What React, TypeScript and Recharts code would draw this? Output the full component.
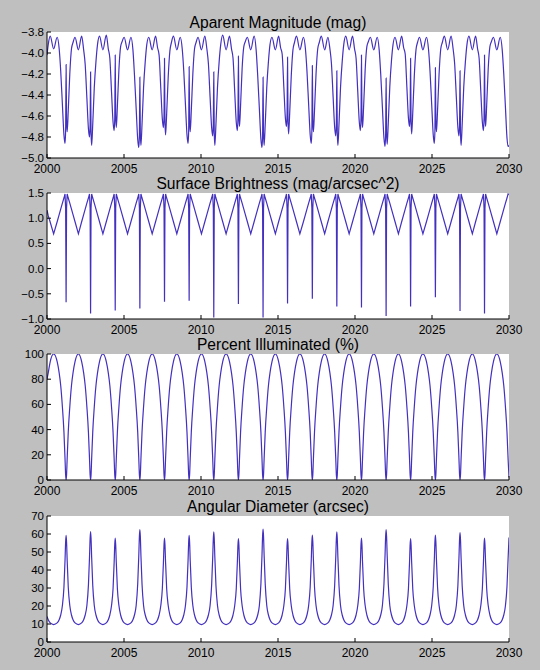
import { Line, LineChart, XAxis, YAxis } from "recharts";

// sample dates (decimal years), one row per synodic cycle of Venus
const YEARS = [
  2000.00, 2000.08, 2000.21, 2000.43,
  2000.66, 2000.79, 2000.89, 2001.00, 2001.10, 2001.17, 2001.21, 2001.24, 2001.27, 2001.31, 2001.38, 2001.48, 2001.59, 2001.69, 2001.82, 2002.04,
  2002.25, 2002.38, 2002.48, 2002.59, 2002.69, 2002.76, 2002.80, 2002.83, 2002.86, 2002.90, 2002.97, 2003.07, 2003.18, 2003.28, 2003.41, 2003.63,
  2003.85, 2003.98, 2004.08, 2004.19, 2004.29, 2004.36, 2004.40, 2004.43, 2004.46, 2004.50, 2004.57, 2004.67, 2004.78, 2004.88, 2005.01, 2005.23,
  2005.45, 2005.58, 2005.68, 2005.79, 2005.89, 2005.96, 2006.00, 2006.03, 2006.06, 2006.10, 2006.17, 2006.27, 2006.38, 2006.48, 2006.61, 2006.83,
  2007.05, 2007.18, 2007.28, 2007.39, 2007.49, 2007.56, 2007.60, 2007.63, 2007.66, 2007.70, 2007.77, 2007.87, 2007.98, 2008.08, 2008.21, 2008.43,
  2008.65, 2008.78, 2008.88, 2008.99, 2009.09, 2009.16, 2009.20, 2009.23, 2009.26, 2009.30, 2009.37, 2009.47, 2009.58, 2009.68, 2009.81, 2010.03,
  2010.25, 2010.38, 2010.48, 2010.59, 2010.69, 2010.76, 2010.80, 2010.83, 2010.86, 2010.90, 2010.97, 2011.07, 2011.18, 2011.28, 2011.41, 2011.63,
  2011.85, 2011.98, 2012.08, 2012.19, 2012.29, 2012.36, 2012.40, 2012.43, 2012.46, 2012.50, 2012.57, 2012.67, 2012.78, 2012.88, 2013.01, 2013.23,
  2013.45, 2013.58, 2013.68, 2013.79, 2013.89, 2013.96, 2014.00, 2014.03, 2014.06, 2014.10, 2014.17, 2014.27, 2014.38, 2014.48, 2014.61, 2014.83,
  2015.04, 2015.17, 2015.27, 2015.38, 2015.48, 2015.55, 2015.59, 2015.62, 2015.65, 2015.69, 2015.76, 2015.86, 2015.97, 2016.07, 2016.20, 2016.42,
  2016.65, 2016.78, 2016.88, 2016.99, 2017.09, 2017.16, 2017.20, 2017.23, 2017.26, 2017.30, 2017.37, 2017.47, 2017.58, 2017.68, 2017.81, 2018.03,
  2018.24, 2018.37, 2018.47, 2018.58, 2018.68, 2018.75, 2018.79, 2018.82, 2018.85, 2018.89, 2018.96, 2019.06, 2019.17, 2019.27, 2019.40, 2019.62,
  2019.84, 2019.97, 2020.07, 2020.18, 2020.28, 2020.35, 2020.39, 2020.42, 2020.45, 2020.49, 2020.56, 2020.66, 2020.77, 2020.87, 2021.00, 2021.22,
  2021.44, 2021.57, 2021.67, 2021.78, 2021.88, 2021.95, 2021.99, 2022.02, 2022.05, 2022.09, 2022.16, 2022.26, 2022.37, 2022.47, 2022.60, 2022.82,
  2023.03, 2023.16, 2023.26, 2023.37, 2023.47, 2023.54, 2023.58, 2023.61, 2023.64, 2023.68, 2023.75, 2023.85, 2023.96, 2024.06, 2024.19, 2024.41,
  2024.64, 2024.77, 2024.87, 2024.98, 2025.08, 2025.15, 2025.19, 2025.22, 2025.25, 2025.29, 2025.36, 2025.46, 2025.57, 2025.67, 2025.80, 2026.02,
  2026.24, 2026.37, 2026.47, 2026.58, 2026.68, 2026.75, 2026.79, 2026.82, 2026.85, 2026.89, 2026.96, 2027.06, 2027.17, 2027.27, 2027.40, 2027.62,
  2027.83, 2027.96, 2028.06, 2028.17, 2028.27, 2028.34, 2028.38, 2028.41, 2028.44, 2028.48, 2028.55, 2028.65, 2028.76, 2028.86, 2028.99, 2029.21,
  2029.43, 2029.56, 2029.66, 2029.77, 2029.87, 2029.94, 2030.00,
];

const MAGNITUDE = [
  -4.02, -3.92, -3.84, -3.96,
  -3.85, -3.96, -4.17, -4.49, -4.78, -4.86, -4.74, -4.11, -4.63, -4.75, -4.55, -4.20, -3.96, -3.90, -3.85, -3.97,
  -3.84, -3.97, -4.11, -4.43, -4.72, -4.80, -4.68, -4.18, -4.76, -4.88, -4.68, -4.33, -4.08, -3.92, -3.84, -3.97,
  -3.83, -3.96, -4.05, -4.37, -4.66, -4.74, -4.62, -4.02, -4.59, -4.71, -4.51, -4.16, -3.94, -3.89, -3.85, -3.97,
  -3.85, -3.97, -4.21, -4.53, -4.82, -4.90, -4.78, -4.23, -4.76, -4.88, -4.68, -4.33, -4.08, -3.92, -3.85, -3.97,
  -3.84, -3.95, -4.02, -4.34, -4.63, -4.71, -4.59, -4.05, -4.66, -4.78, -4.58, -4.23, -3.98, -3.90, -3.84, -3.97,
  -3.85, -3.96, -4.17, -4.49, -4.78, -4.86, -4.74, -4.13, -4.63, -4.75, -4.55, -4.20, -3.96, -3.90, -3.85, -3.97,
  -3.84, -3.96, -4.10, -4.42, -4.71, -4.79, -4.67, -4.18, -4.76, -4.88, -4.68, -4.33, -4.08, -3.92, -3.83, -3.97,
  -3.84, -3.96, -4.05, -4.37, -4.66, -4.74, -4.62, -4.03, -4.58, -4.70, -4.50, -4.15, -3.94, -3.89, -3.85, -3.97,
  -3.84, -3.97, -4.21, -4.53, -4.82, -4.90, -4.78, -4.23, -4.76, -4.88, -4.68, -4.33, -4.08, -3.92, -3.85, -3.97,
  -3.84, -3.95, -4.01, -4.33, -4.62, -4.70, -4.58, -4.04, -4.65, -4.77, -4.57, -4.22, -3.97, -3.90, -3.84, -3.97,
  -3.85, -3.96, -4.17, -4.49, -4.78, -4.86, -4.74, -4.12, -4.63, -4.75, -4.55, -4.20, -3.96, -3.90, -3.84, -3.97,
  -3.85, -3.96, -4.10, -4.42, -4.71, -4.79, -4.67, -4.17, -4.76, -4.88, -4.68, -4.33, -4.08, -3.92, -3.84, -3.97,
  -3.84, -3.96, -4.05, -4.37, -4.66, -4.74, -4.62, -4.02, -4.59, -4.71, -4.51, -4.16, -3.94, -3.89, -3.85, -3.97,
  -3.85, -3.97, -4.20, -4.52, -4.81, -4.89, -4.77, -4.24, -4.75, -4.87, -4.67, -4.32, -4.07, -3.92, -3.85, -3.97,
  -3.84, -3.95, -4.01, -4.33, -4.62, -4.70, -4.58, -4.05, -4.65, -4.77, -4.57, -4.22, -3.97, -3.90, -3.85, -3.97,
  -3.85, -3.96, -4.17, -4.49, -4.78, -4.86, -4.74, -4.14, -4.63, -4.75, -4.55, -4.20, -3.96, -3.90, -3.84, -3.97,
  -3.84, -3.96, -4.10, -4.42, -4.71, -4.79, -4.67, -4.17, -4.76, -4.88, -4.68, -4.33, -4.08, -3.92, -3.84, -3.97,
  -3.84, -3.96, -4.05, -4.37, -4.66, -4.74, -4.62, -4.02, -4.58, -4.70, -4.50, -4.15, -3.94, -3.89, -3.85, -3.97,
  -3.85, -3.97, -4.20, -4.52, -4.81, -4.89, -4.88,
];

const SURFACE_BRIGHTNESS = [
  1.16, 1.05, 0.92, 0.69,
  0.93, 1.07, 1.18, 1.30, 1.40, 1.48, 1.20, -0.67, 1.20, 1.48, 1.40, 1.30, 1.18, 1.07, 0.93, 0.69,
  0.93, 1.07, 1.18, 1.30, 1.40, 1.48, 1.20, -0.89, 1.20, 1.48, 1.40, 1.30, 1.18, 1.07, 0.93, 0.69,
  0.93, 1.07, 1.18, 1.30, 1.40, 1.48, 1.20, -0.83, 1.20, 1.48, 1.40, 1.30, 1.18, 1.07, 0.93, 0.69,
  0.93, 1.07, 1.18, 1.30, 1.40, 1.48, 1.20, -0.79, 1.20, 1.48, 1.40, 1.30, 1.18, 1.07, 0.93, 0.69,
  0.93, 1.07, 1.18, 1.30, 1.40, 1.48, 1.20, -0.66, 1.20, 1.48, 1.40, 1.30, 1.18, 1.07, 0.93, 0.69,
  0.93, 1.07, 1.18, 1.30, 1.40, 1.48, 1.20, -0.64, 1.20, 1.48, 1.40, 1.30, 1.18, 1.07, 0.93, 0.69,
  0.93, 1.07, 1.18, 1.30, 1.40, 1.48, 1.20, -0.97, 1.20, 1.48, 1.40, 1.30, 1.18, 1.07, 0.93, 0.69,
  0.93, 1.07, 1.18, 1.30, 1.40, 1.48, 1.20, -0.70, 1.20, 1.48, 1.40, 1.30, 1.18, 1.07, 0.93, 0.69,
  0.93, 1.07, 1.18, 1.30, 1.40, 1.48, 1.20, -0.97, 1.20, 1.48, 1.40, 1.30, 1.18, 1.07, 0.93, 0.69,
  0.93, 1.07, 1.18, 1.30, 1.40, 1.48, 1.20, -0.69, 1.20, 1.48, 1.40, 1.30, 1.18, 1.07, 0.93, 0.69,
  0.93, 1.07, 1.18, 1.30, 1.40, 1.48, 1.20, -0.60, 1.20, 1.48, 1.40, 1.30, 1.18, 1.07, 0.93, 0.69,
  0.93, 1.07, 1.18, 1.30, 1.40, 1.48, 1.20, -0.75, 1.20, 1.48, 1.40, 1.30, 1.18, 1.07, 0.93, 0.69,
  0.93, 1.07, 1.18, 1.30, 1.40, 1.48, 1.20, -0.77, 1.20, 1.48, 1.40, 1.30, 1.18, 1.07, 0.93, 0.69,
  0.93, 1.07, 1.18, 1.30, 1.40, 1.48, 1.20, -0.94, 1.20, 1.48, 1.40, 1.30, 1.18, 1.07, 0.93, 0.69,
  0.93, 1.07, 1.18, 1.30, 1.40, 1.48, 1.20, -0.75, 1.20, 1.48, 1.40, 1.30, 1.18, 1.07, 0.93, 0.69,
  0.93, 1.07, 1.18, 1.30, 1.40, 1.48, 1.20, -0.57, 1.20, 1.48, 1.40, 1.30, 1.18, 1.07, 0.93, 0.69,
  0.93, 1.07, 1.18, 1.30, 1.40, 1.48, 1.20, -0.84, 1.20, 1.48, 1.40, 1.30, 1.18, 1.07, 0.93, 0.69,
  0.93, 1.07, 1.18, 1.30, 1.40, 1.48, 1.20, -0.89, 1.20, 1.48, 1.40, 1.30, 1.18, 1.07, 0.93, 0.69,
  0.93, 1.07, 1.18, 1.30, 1.40, 1.48, 1.47,
];

const ILLUMINATED = [
  80, 85, 94, 100,
  94, 85, 75, 58, 38, 17, 4, 0, 4, 17, 38, 58, 75, 85, 94, 100,
  94, 85, 75, 58, 38, 17, 4, 0, 4, 17, 38, 58, 75, 85, 94, 100,
  94, 85, 75, 58, 38, 17, 4, 0, 4, 17, 38, 58, 75, 85, 94, 100,
  94, 85, 75, 58, 38, 17, 4, 0, 4, 17, 38, 58, 75, 85, 94, 100,
  94, 85, 75, 58, 38, 17, 4, 0, 4, 17, 38, 58, 75, 85, 94, 100,
  94, 85, 75, 58, 38, 17, 4, 0, 4, 17, 38, 58, 75, 85, 94, 100,
  94, 85, 75, 58, 38, 17, 4, 0, 4, 17, 38, 58, 75, 85, 94, 100,
  94, 85, 75, 58, 38, 17, 4, 0, 4, 17, 38, 58, 75, 85, 94, 100,
  94, 85, 75, 58, 38, 17, 4, 0, 4, 17, 38, 58, 75, 85, 94, 100,
  94, 85, 75, 58, 38, 17, 4, 0, 4, 17, 38, 58, 75, 85, 94, 100,
  94, 85, 75, 58, 38, 17, 4, 0, 4, 17, 38, 58, 75, 85, 94, 100,
  94, 85, 75, 58, 38, 17, 4, 0, 4, 17, 38, 58, 75, 85, 94, 100,
  94, 85, 75, 58, 38, 17, 4, 0, 4, 17, 38, 58, 75, 85, 94, 100,
  94, 85, 75, 58, 38, 17, 4, 0, 4, 17, 38, 58, 75, 85, 94, 100,
  94, 85, 75, 58, 38, 17, 4, 0, 4, 17, 38, 58, 75, 85, 94, 100,
  94, 85, 75, 58, 38, 17, 4, 0, 4, 17, 38, 58, 75, 85, 94, 100,
  94, 85, 75, 58, 38, 17, 4, 0, 4, 17, 38, 58, 75, 85, 94, 100,
  94, 85, 75, 58, 38, 17, 4, 0, 4, 17, 38, 58, 75, 85, 94, 100,
  94, 85, 75, 58, 38, 17, 2,
];

const DIAMETER = [
  14.2, 12.4, 10.6, 9.7,
  10.6, 12.4, 15.0, 20.3, 30.5, 45.3, 55.6, 59.2, 55.6, 45.3, 30.5, 20.3, 15.0, 12.4, 10.6, 9.7,
  10.6, 12.4, 15.0, 20.3, 31.6, 47.0, 57.6, 61.4, 57.6, 47.0, 31.6, 20.3, 15.0, 12.4, 10.6, 9.7,
  10.6, 12.4, 15.0, 20.3, 29.7, 44.2, 54.1, 57.7, 54.1, 44.2, 29.7, 20.3, 15.0, 12.4, 10.6, 9.7,
  10.6, 12.4, 15.0, 20.3, 32.2, 47.9, 58.7, 62.5, 58.7, 47.9, 32.2, 20.3, 15.0, 12.4, 10.6, 9.7,
  10.6, 12.4, 15.0, 20.3, 29.7, 44.2, 54.1, 57.7, 54.1, 44.2, 29.7, 20.3, 15.0, 12.4, 10.6, 9.7,
  10.6, 12.4, 15.0, 20.3, 30.5, 45.3, 55.6, 59.2, 55.6, 45.3, 30.5, 20.3, 15.0, 12.4, 10.6, 9.7,
  10.6, 12.4, 15.0, 20.3, 31.5, 46.9, 57.4, 61.2, 57.4, 46.9, 31.5, 20.3, 15.0, 12.4, 10.6, 9.7,
  10.6, 12.4, 15.0, 20.3, 29.6, 44.0, 54.0, 57.5, 54.0, 44.0, 29.6, 20.3, 15.0, 12.4, 10.6, 9.7,
  10.6, 12.4, 15.0, 20.3, 32.3, 48.0, 58.9, 62.7, 58.9, 48.0, 32.3, 20.3, 15.0, 12.4, 10.6, 9.7,
  10.6, 12.4, 15.0, 20.3, 29.6, 44.0, 54.0, 57.5, 54.0, 44.0, 29.6, 20.3, 15.0, 12.4, 10.6, 9.7,
  10.6, 12.4, 15.0, 20.3, 30.6, 45.5, 55.8, 59.4, 55.8, 45.5, 30.6, 20.3, 15.0, 12.4, 10.6, 9.7,
  10.6, 12.4, 15.0, 20.3, 31.5, 46.9, 57.4, 61.2, 57.4, 46.9, 31.5, 20.3, 15.0, 12.4, 10.6, 9.7,
  10.6, 12.4, 15.0, 20.3, 29.7, 44.2, 54.1, 57.7, 54.1, 44.2, 29.7, 20.3, 15.0, 12.4, 10.6, 9.7,
  10.6, 12.4, 15.0, 20.3, 32.2, 47.9, 58.7, 62.5, 58.7, 47.9, 32.2, 20.3, 15.0, 12.4, 10.6, 9.7,
  10.6, 12.4, 15.0, 20.3, 29.6, 44.0, 54.0, 57.5, 54.0, 44.0, 29.6, 20.3, 15.0, 12.4, 10.6, 9.7,
  10.6, 12.4, 15.0, 20.3, 30.6, 45.5, 55.8, 59.4, 55.8, 45.5, 30.6, 20.3, 15.0, 12.4, 10.6, 9.7,
  10.6, 12.4, 15.0, 20.3, 31.3, 46.6, 57.1, 60.8, 57.1, 46.6, 31.3, 20.3, 15.0, 12.4, 10.6, 9.7,
  10.6, 12.4, 15.0, 20.3, 29.7, 44.2, 54.1, 57.7, 54.1, 44.2, 29.7, 20.3, 15.0, 12.4, 10.6, 9.7,
  10.6, 12.4, 15.0, 20.3, 31.0, 46.1, 58.0,
];

const YEAR_TICKS = [2000, 2005, 2010, 2015, 2020, 2025, 2030];
const MAG_TICKS = [-5.0, -4.8, -4.6, -4.4, -4.2, -4.0, -3.8];
const SB_TICKS = [-1.0, -0.5, 0.0, 0.5, 1.0, 1.5];
const ILLUM_TICKS = [0, 20, 40, 60, 80, 100];
const DIAM_TICKS = [0, 10, 20, 30, 40, 50, 60, 70];

const rows = YEARS.map((year, i) => ({
  year,
  magnitude: MAGNITUDE[i],
  surface: SURFACE_BRIGHTNESS[i],
  illuminated: ILLUMINATED[i],
  diameter: DIAMETER[i],
}));

const oneDecimal = (v: number) => (v < 0 ? "\u2212" : "") + Math.abs(v).toFixed(1);
const plain = (v: number) => String(v);

const PANELS = [
  { title: "Aparent Magnitude (mag)", key: "magnitude", top: 32, domain: [-5, -3.8], ticks: MAG_TICKS, format: oneDecimal, curve: "monotone" },
  { title: "Surface Brightness (mag/arcsec^2)", key: "surface", top: 193, domain: [-1, 1.5], ticks: SB_TICKS, format: oneDecimal, curve: "linear" },
  { title: "Percent Illuminated (%)", key: "illuminated", top: 354, domain: [0, 100], ticks: ILLUM_TICKS, format: plain, curve: "monotone" },
  { title: "Angular Diameter (arcsec)", key: "diameter", top: 516, domain: [0, 70], ticks: DIAM_TICKS, format: plain, curve: "monotone" },
];

const PLOT_LEFT = 47;
const PLOT_RIGHT = 509;
const PLOT_H = 126;
const HEAD = 32;
const CHART_H = 190;
const LINE_COLOR = "#4230bf";
const xTickStyle = { fill: "#000", fontSize: 12 };
const yTickStyle = { fill: "#000", fontSize: 11.5 };
const blackLine = { stroke: "#000", strokeWidth: 1 };

const Panel = ({ p }: { p: (typeof PANELS)[number] }) => (
  <div style={{ position: "absolute", left: 0, top: p.top - HEAD, width: 540, height: CHART_H }}>
    <div
      style={{
        position: "absolute",
        left: PLOT_LEFT,
        top: HEAD,
        width: PLOT_RIGHT - PLOT_LEFT,
        height: PLOT_H,
        background: "#fff",
      }}
    />
    <div
      style={{
        position: "absolute",
        left: PLOT_LEFT,
        top: HEAD - 4 - 13.4,
        width: PLOT_RIGHT - PLOT_LEFT,
        fontSize: 15.6,
        lineHeight: "16px",
        textAlign: "center",
        whiteSpace: "nowrap",
      }}
    >
      {p.title}
    </div>
    <LineChart
      width={540}
      height={CHART_H}
      data={rows}
      margin={{ top: HEAD, right: 540 - PLOT_RIGHT, bottom: CHART_H - HEAD - PLOT_H - 20, left: PLOT_LEFT - 40 }}
    >
      <XAxis
        dataKey="year"
        type="number"
        domain={[2000, 2030]}
        ticks={YEAR_TICKS}
        interval={0}
        allowDataOverflow
        height={20}
        tickSize={-4}
        tickMargin={10}
        axisLine={blackLine}
        tickLine={blackLine}
        tick={xTickStyle}
      />
      <XAxis
        xAxisId="top"
        orientation="top"
        dataKey="year"
        type="number"
        domain={[2000, 2030]}
        ticks={YEAR_TICKS}
        interval={0}
        allowDataOverflow
        height={0}
        tickSize={-4}
        axisLine={blackLine}
        tickLine={blackLine}
        tick={false}
      />
      <YAxis
        type="number"
        domain={p.domain}
        ticks={p.ticks}
        interval={0}
        allowDataOverflow
        width={40}
        tickSize={-4}
        tickMargin={7}
        tickFormatter={p.format}
        axisLine={blackLine}
        tickLine={blackLine}
        tick={yTickStyle}
      />
      <YAxis
        yAxisId="right"
        orientation="right"
        type="number"
        domain={p.domain}
        ticks={p.ticks}
        interval={0}
        allowDataOverflow
        width={0}
        tickSize={-4}
        axisLine={blackLine}
        tickLine={blackLine}
        tick={false}
      />
      <Line
        type={p.curve as "monotone" | "linear"}
        dataKey={p.key}
        stroke={LINE_COLOR}
        strokeWidth={1.2}
        dot={false}
        activeDot={false}
        isAnimationActive={false}
      />
    </LineChart>
  </div>
);

export default function App() {
  return (
    <div
      style={{
        position: "absolute",
        left: 0,
        top: 0,
        width: 540,
        height: 670,
        background: "#bfbfbf",
        fontFamily: "'Liberation Sans', Arial, Helvetica, sans-serif",
        color: "#000",
        overflow: "hidden",
      }}
    >
      {PANELS.map((p) => (
        <Panel key={p.key} p={p} />
      ))}
    </div>
  );
}
